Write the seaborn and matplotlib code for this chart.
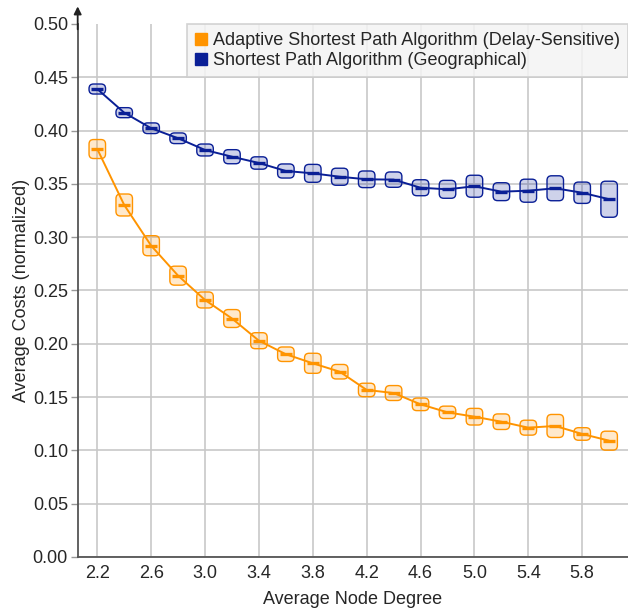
import numpy as np
import pandas as pd
import matplotlib.pyplot as plt
import seaborn as sns
from matplotlib.patches import FancyBboxPatch
from matplotlib.lines import Line2D

# data
degree = [2.2, 2.4, 2.6, 2.8, 3.0, 3.2, 3.4, 3.6, 3.8, 4.0,
          4.2, 4.4, 4.6, 4.8, 5.0, 5.2, 5.4, 5.6, 5.8, 6.0]
adaptive_mean = [0.3827, 0.3302, 0.2920, 0.2639, 0.2411, 0.2237, 0.2029, 0.1902, 0.1817, 0.1738,
                 0.1567, 0.1538, 0.1432, 0.1357, 0.1316, 0.1269, 0.1213, 0.1229, 0.1154, 0.1091]
adaptive_err = [0.0089, 0.0103, 0.0094, 0.0089, 0.0075, 0.0084, 0.0075, 0.0068, 0.0094, 0.0068,
                0.0063, 0.0070, 0.0059, 0.0058, 0.0078, 0.0073, 0.0070, 0.0108, 0.0059, 0.0089]
geo_mean = [0.4390, 0.4168, 0.4022, 0.3928, 0.3818, 0.3755, 0.3696, 0.3621, 0.3599, 0.3567,
            0.3543, 0.3540, 0.3464, 0.3449, 0.3478, 0.3427, 0.3436, 0.3459, 0.3417, 0.3356]
geo_err = [0.0047, 0.0047, 0.0050, 0.0050, 0.0056, 0.0066, 0.0058, 0.0066, 0.0084, 0.0080,
           0.0078, 0.0072, 0.0075, 0.0084, 0.0103, 0.0084, 0.0108, 0.0117, 0.0100, 0.0169]

series_names = ["Adaptive Shortest Path Algorithm (Delay-Sensitive)",
                "Shortest Path Algorithm (Geographical)"]
colors = ["#ff9400", "#0a1f96"]
x_ticks = [2.2, 2.6, 3.0, 3.4, 3.8, 4.2, 4.6, 5.0, 5.4, 5.8]
y_ticks = [0.00, 0.05, 0.10, 0.15, 0.20, 0.25, 0.30, 0.35, 0.40, 0.45, 0.50]

df = pd.DataFrame({
    "degree": degree * 2,
    "cost": adaptive_mean + geo_mean,
    "err": adaptive_err + geo_err,
    "series": [series_names[0]] * len(degree) + [series_names[1]] * len(degree),
})

sns.set_style("white")
plt.rcParams["font.family"] = ["Liberation Sans", "DejaVu Sans"]

fig = plt.figure(figsize=(6.28, 6.12), dpi=100)
ax = fig.add_axes([0.1237, 0.0899, 0.8763, 0.8709])
ax.set_xlim(2.0545, 6.14)
ax.set_ylim(0, 0.5)

ax.set_xticks(x_ticks)
ax.set_xticklabels([f"{t:.1f}" for t in x_ticks])
ax.set_yticks(y_ticks)
ax.set_yticklabels([f"{t:.2f}" for t in y_ticks])
ax.grid(True, color="#c8c8c8", lw=1.2)
ax.set_axisbelow(True)

# pixel scale for rounded error boxes
fig.canvas.draw()
p0 = ax.transData.transform((0, 0))
p1 = ax.transData.transform((1, 1))
px_x = p1[0] - p0[0]
px_y = p1[1] - p0[1]
box_w = 16.5 / px_x
rad_px = 4.5

for name, col in zip(series_names, colors):
    sub = df[df.series == name]
    for xv, m, e in zip(sub.degree, sub.cost, sub.err):
        h_px = 2 * e * px_y
        r = min(rad_px, h_px / 2 - 0.3) / px_x
        box = FancyBboxPatch((xv - box_w / 2, m - e), box_w, 2 * e,
                             boxstyle=f"round,pad=0,rounding_size={r}",
                             mutation_aspect=px_x / px_y,
                             facecolor=col, alpha=0.2, edgecolor="none", zorder=3)
        ax.add_patch(box)
        edge = FancyBboxPatch((xv - box_w / 2, m - e), box_w, 2 * e,
                              boxstyle=f"round,pad=0,rounding_size={r}",
                              mutation_aspect=px_x / px_y,
                              facecolor="none", edgecolor=col, lw=1.0, zorder=4)
        ax.add_patch(edge)

sns.lineplot(data=df, x="degree", y="cost", hue="series", palette=colors,
             marker="_", markersize=8, markeredgewidth=2.4, lw=1.4,
             legend=False, ax=ax, zorder=5)
for ln in ax.lines:
    ln.set_markeredgecolor(ln.get_color())
    ln.set_markerfacecolor(ln.get_color())

ax.set_xlim(2.0545, 6.14)
ax.set_ylim(0, 0.5)
ax.yaxis.get_gridlines()[-1].set_visible(False)

for s in ["top", "right"]:
    ax.spines[s].set_visible(False)
for s in ["left", "bottom"]:
    ax.spines[s].set_color("#555555")
    ax.spines[s].set_linewidth(1.3)
ax.tick_params(axis="y", length=5, width=1, color="#999999", labelsize=13, pad=2, left=True)
ax.tick_params(axis="x", length=0, labelsize=13, pad=6)
ax.annotate("", xy=(0, 1.033), xytext=(0, 0.99), xycoords="axes fraction",
            arrowprops=dict(arrowstyle="-|>", color="#222222", lw=1.3, mutation_scale=11,
                            shrinkA=0, shrinkB=0), annotation_clip=False)

ax.set_xlabel("Average Node Degree", fontsize=13, labelpad=6)
ax.set_ylabel("Average Costs (normalized)", fontsize=13, labelpad=2)

handles = [Line2D([], [], marker="s", color=c, linestyle="none", markersize=8) for c in colors]
leg = ax.legend(handles, series_names, loc="upper right", bbox_to_anchor=(1.0, 1.0),
                fontsize=13, frameon=True, fancybox=False, framealpha=0.85,
                facecolor="#f4f4f4", edgecolor="#cccccc", handlelength=0.7,
                handletextpad=0.3, borderpad=0.45, labelspacing=0.15, borderaxespad=0)
leg.get_frame().set_linewidth(1.2)

fig.savefig("out.png", dpi=100)
